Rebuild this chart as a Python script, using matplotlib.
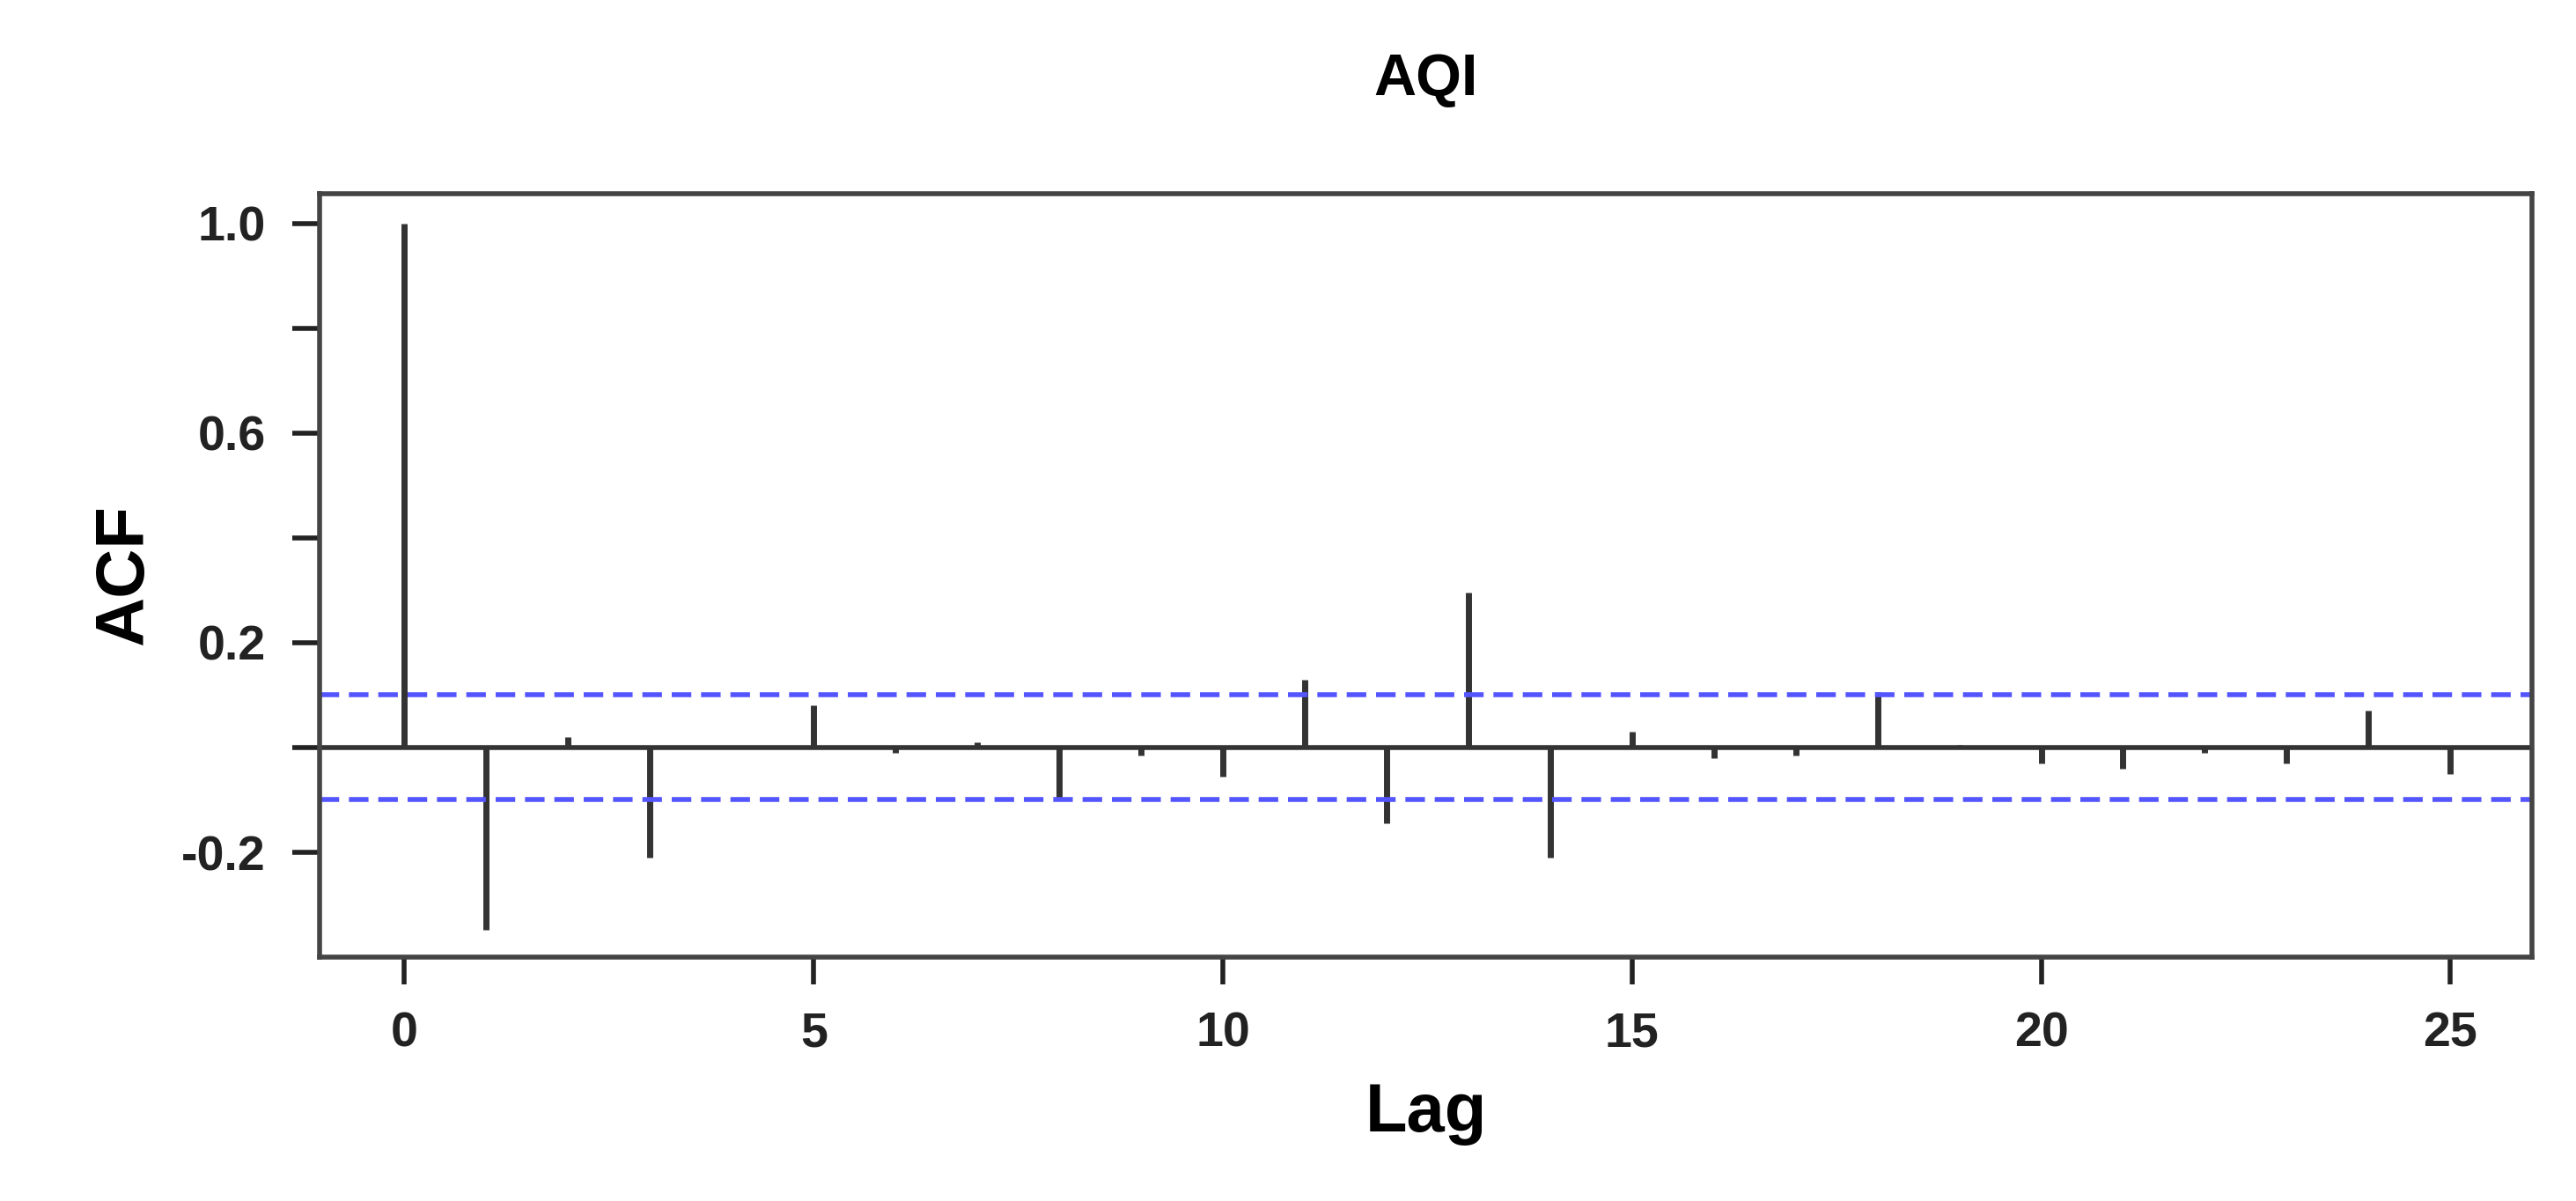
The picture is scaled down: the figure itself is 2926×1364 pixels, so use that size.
import matplotlib
matplotlib.use("Agg")
import matplotlib.pyplot as plt

lags = list(range(26))
acf = [1.0, -0.348, 0.02, -0.21, 0.003, 0.08, -0.01, 0.01, -0.10, -0.015,
       -0.055, 0.13, -0.145, 0.295, -0.21, 0.03, -0.02, -0.015, 0.105, 0.005,
       -0.03, -0.04, -0.01, -0.03, 0.07, -0.05]
conf = 0.10
yticks = [-0.2, 0.0, 0.2, 0.4, 0.6, 0.8, 1.0]
ylabels = ["-0.2", "", "0.2", "", "0.6", "", "1.0"]
xticks = [0, 5, 10, 15, 20, 25]

plt.rcParams['font.family'] = ['Liberation Sans', 'DejaVu Sans']
plt.rcParams['font.weight'] = 'bold'
fig = plt.figure(figsize=(29.26, 13.64), dpi=100)
ax = fig.add_axes([0.124, 0.203, 0.859, 0.636])
ax.vlines(lags, 0, acf, color='#333333', linewidth=5)
ax.axhline(0, color='#333333', linewidth=4)
ax.axhline(conf, color='#5555ff', linestyle=(0, (4, 2)), linewidth=4)
ax.axhline(-conf, color='#5555ff', linestyle=(0, (4, 2)), linewidth=4)
ax.set_xlim(-1.04, 26.0)
ax.set_ylim(-0.40, 1.057)
ax.set_yticks(yticks)
ax.set_yticklabels(ylabels)
ax.set_xticks(xticks)
ax.tick_params(labelsize=40, width=4, length=22, colors='#222222', pad=22)
for s in ax.spines.values():
    s.set_linewidth(4)
    s.set_color('#444444')
ax.set_xlabel("Lag", fontsize=56, fontweight='bold', labelpad=20)
ax.set_ylabel("ACF", fontsize=56, fontweight='bold', labelpad=20)
ax.set_title("AQI", fontsize=48, fontweight='bold', pad=80)
fig.savefig("out.png", dpi=100)
